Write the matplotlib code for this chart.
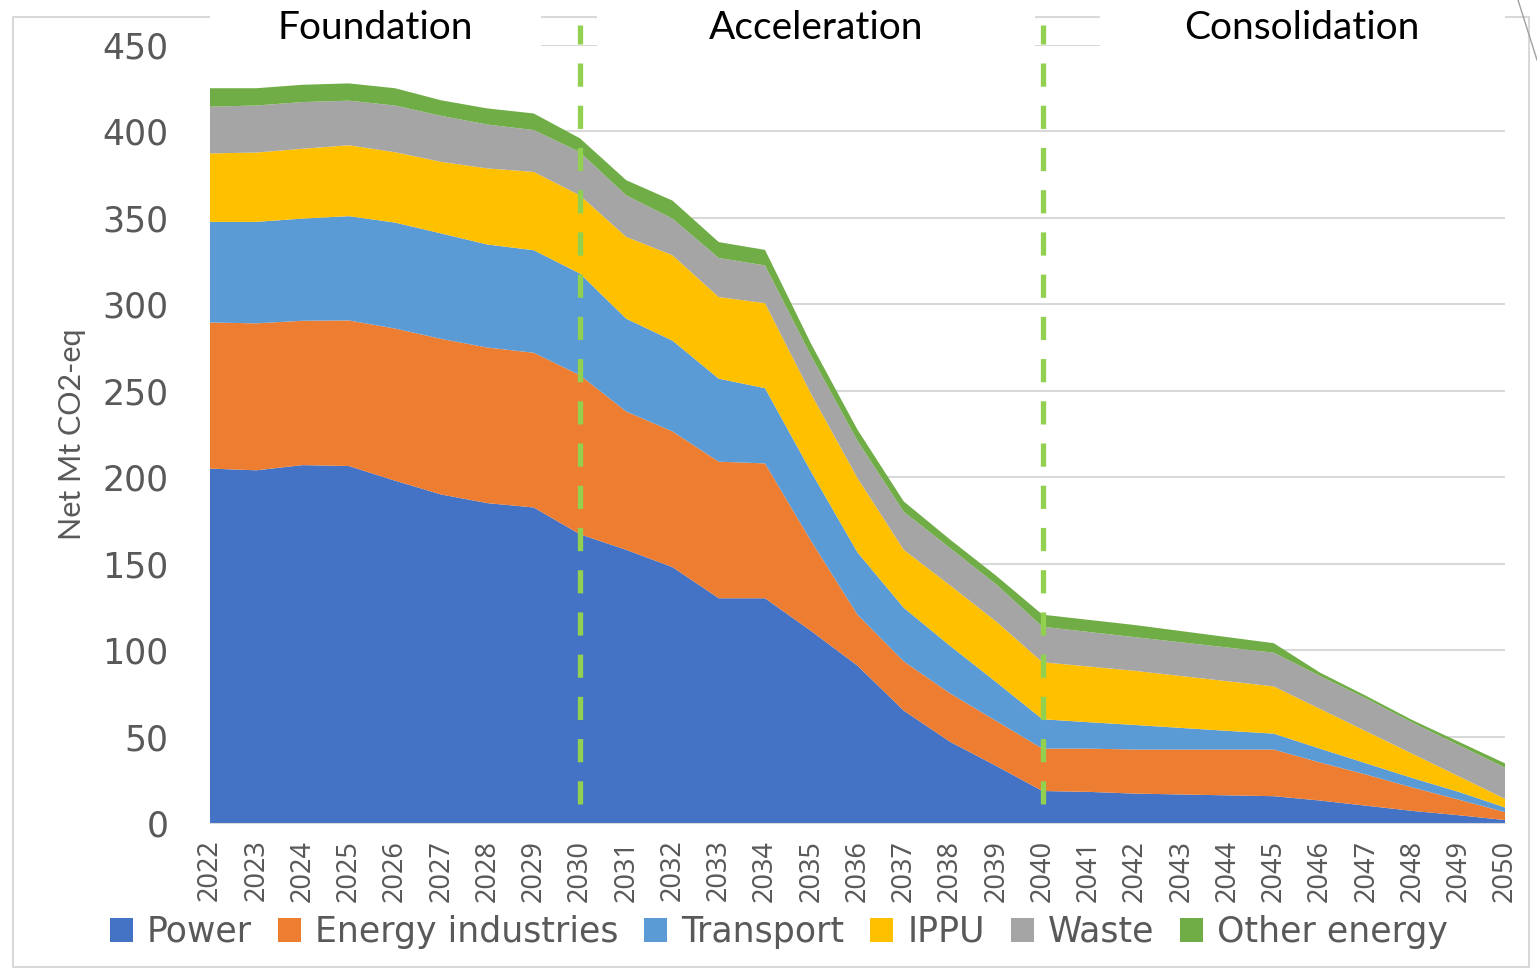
import numpy as np
import matplotlib.pyplot as plt
from matplotlib.patches import Rectangle
from matplotlib.lines import Line2D

# net emissions by sector, Mt CO2-eq
years = list(range(2022, 2051))
power = [205, 204, 207, 206.5, 198, 190, 185, 182.5, 167, 158, 148, 130, 130, 111, 91,
         65, 47, 33, 18.5, 18, 17, 16.5, 16, 15.5, 13, 10, 7, 4.5, 1.7]
energy_ind = [84.5, 85, 83.5, 84.2, 88, 90, 90, 89.5, 92, 80, 78.5, 79, 78, 52, 29.5,
              28.5, 28, 26, 24.5, 25, 25.5, 26, 26.5, 27, 22, 18, 13.5, 9, 4.6]
transport = [58.2, 58.7, 59.1, 60.3, 61.3, 61, 59.6, 59.3, 58.8, 53.7, 52.5, 48, 43.5, 40, 36,
             31, 27.5, 22.5, 17, 15.3, 14.2, 12.5, 10.8, 9.2, 8, 6.5, 5.5, 4.5, 2.7]
ippu = [39.6, 40.1, 40.4, 41, 40.7, 41.4, 44, 45.3, 45.2, 47.3, 49.4, 47.2, 49.2, 45, 43,
        33.5, 35, 35, 33, 32.2, 31.3, 30, 28.7, 27.3, 23, 18.5, 14, 9, 5]
waste = [27, 27.2, 27, 25.8, 27, 26.6, 25.4, 24.2, 25, 24, 21.2, 22.6, 21.8, 22, 21.5,
         22, 21.5, 21.5, 20.5, 20, 19.5, 19.5, 19.5, 19.5, 19, 19, 18, 18, 18]
other = [10.7, 10, 10, 10, 10, 9, 9.3, 9.6, 8, 8.8, 10.4, 9.2, 9, 7, 6.5,
         6, 5, 5, 7, 7, 7, 6.5, 6, 5.5, 2, 1.5, 1.5, 2, 2.5]

sectors = ["Power", "Energy industries", "Transport", "IPPU", "Waste", "Other energy"]
colors = ["#4472C4", "#ED7D31", "#5B9BD5", "#FFC000", "#A5A5A5", "#70AD47"]

phases = ["Foundation", "Acceleration", "Consolidation"]
phase_x = [375, 816, 1302]   # pixel centres of the phase titles
phase_breaks = [2030, 2040]

W, H = 1537, 973
fig = plt.figure(figsize=(W / 100, H / 100), dpi=100)

def fx(x):
    return x / W

def fy(y):
    return 1 - y / H

ax = fig.add_axes([fx(210), fy(823), fx(1505) - fx(210), fy(45) - fy(823)])

ax.stackplot(years, power, energy_ind, transport, ippu, waste, other,
             colors=colors, labels=sectors, linewidth=0, zorder=2)

ax.set_xlim(2022, 2050)
ax.set_ylim(0, 450)
ax.set_yticks(range(0, 451, 50))
ax.set_xticks(years)
ax.set_xticklabels([str(y) for y in years], rotation=90, fontsize=19.5,
                   family="Noto Sans", color="#595959")
ax.tick_params(axis="y", labelsize=25, colors="#595959", length=0, pad=30)
ax.tick_params(axis="x", length=0, pad=12)
for lab in ax.get_yticklabels():
    lab.set_family("DejaVu Sans")
ax.grid(axis="y", color="#d9d9d9", linewidth=1.5, zorder=0)
ax.set_axisbelow(True)
for s in ["top", "right", "left"]:
    ax.spines[s].set_visible(False)
ax.spines["bottom"].set_color("#d9d9d9")

ax.set_ylabel("Net Mt CO2-eq", fontsize=22, family="Lato", color="#595959")
ax.yaxis.set_label_coords((86 - 210) / 1295, 0.5)

# phase separators
for b in phase_breaks:
    ax.plot([b, b], [11, 461.5], color="#92D050", linewidth=3.8,
            dashes=(4.4, 3.6), clip_on=False, zorder=5)

# outer chart frame
fig.add_artist(Rectangle((fx(13), fy(967)), fx(1529) - fx(13), fy(17) - fy(967),
                         transform=fig.transFigure, fill=False,
                         edgecolor="#d9d9d9", linewidth=1.5, zorder=1))

# white title boxes over the top of the plot
for x0, x1 in [(210, 541), (597, 1035), (1100, 1505)]:
    fig.add_artist(Rectangle((fx(x0), fy(62)), fx(x1) - fx(x0), fy(0) - fy(62),
                             transform=fig.transFigure, facecolor="white",
                             edgecolor="none", zorder=3))
for name, px in zip(phases, phase_x):
    fig.text(fx(px), fy(28), name, ha="center", va="center", fontsize=28,
             family="Lato", color="black", zorder=4)

# little slide artefact at the top right corner
fig.add_artist(Line2D([fx(1518), fx(1537)], [fy(0), fy(60)],
                      transform=fig.transFigure, color="#a0a0a0", linewidth=1))

handles = [Rectangle((0, 0), 1, 1, facecolor=c, edgecolor="none") for c in colors]
leg = fig.legend(handles, sectors, loc="center", bbox_to_anchor=(fx(779), fy(932)),
                 ncol=6, frameon=False, handlelength=0.66, handleheight=0.66,
                 handletextpad=0.4, columnspacing=0.75,
                 prop={"family": "DejaVu Sans", "size": 25})
for t in leg.get_texts():
    t.set_color("#595959")

fig.savefig("out.png", dpi=100, facecolor="white")
